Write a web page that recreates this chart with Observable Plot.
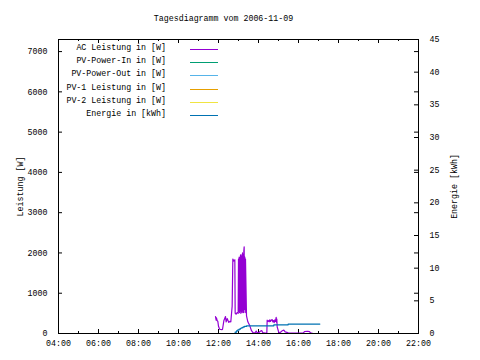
<!DOCTYPE html>
<html><head><meta charset="utf-8">
<script src="https://cdn.jsdelivr.net/npm/d3@7"></script>
<script src="https://cdn.jsdelivr.net/npm/@observablehq/plot@0.6"></script>
<style>
body{margin:0;background:#fff;}
#wrap{position:relative;width:480px;height:360px;font-family:"Liberation Mono",monospace;font-size:8.3px;color:#000;}
#legend{position:absolute;left:0;top:0;}
.row{position:absolute;left:0;width:230px;height:13px;}
.row span{position:absolute;right:64px;top:0;white-space:pre;line-height:13px;}
.row i{position:absolute;left:190px;width:28px;top:8px;height:1px;}
</style>
</head><body>
<div id="wrap"><div id="legend"></div></div>
<script>
const title = "Tagesdiagramm vom 2006-11-09";
const seriesNames = ["AC Leistung in [W]","PV-Power-In in [W]","PV-Power-Out in [W]","PV-1 Leistung in [W]","PV-2 Leistung in [W]","Energie in [kWh]"];
const seriesColors = ["#9400d3","#009e73","#56b4e9","#e69f00","#f0e442","#0072b2"];
const yLabel = "Leistung [W]";
const y2Label = "Energie [kWh]";
const xTickLabels = ["04:00","06:00","08:00","10:00","12:00","14:00","16:00","18:00","20:00","22:00"];
const xMinorLabels = ["05:00","07:00","09:00","11:00","13:00","15:00","17:00","19:00","21:00"];
const yTicks = [0,1000,2000,3000,4000,5000,6000,7000];
const y2Ticks = [0,5,10,15,20,25,30,35,40,45];
const yMax = 7300;
const y2Max = 45;

// AC Leistung in [W]
const acTimes = ["11:51","11:53","11:54","11:56","11:58","12:00","12:03","12:06","12:10","12:12","12:16","12:21","12:23","12:26","12:31","12:34","12:37","12:41","12:43","12:46","12:49","12:50","12:53","12:56","12:59","13:00","13:01","13:02","13:03","13:04","13:05","13:06","13:07","13:08","13:09","13:10","13:11","13:12","13:13","13:14","13:15","13:16","13:17","13:18","13:19","13:20","13:21","13:24","13:28","13:34","13:39","13:44","13:50","13:53","13:56","14:02","14:06","14:10","14:13","14:20","14:25","14:26","14:28","14:30","14:32","14:34","14:36","14:38","14:41","14:43","14:45","14:47","14:49","14:51","14:53","14:54","14:55","14:56","15:01","15:06","15:10","15:16","15:20","15:25","15:30","15:45","16:00","16:15","16:18","16:27","16:33","16:36","16:44"];
const acValues = [420,330,390,320,300,180,110,100,95,100,315,420,290,370,275,300,290,680,1850,1800,1830,500,480,520,500,1850,550,1900,520,1880,560,1950,500,1900,540,1950,520,2000,560,1950,520,2050,2150,600,1900,520,1850,440,290,190,70,15,20,60,20,30,60,70,20,10,15,330,300,320,290,340,300,330,345,290,320,270,340,300,400,280,360,165,25,30,60,85,40,30,10,10,10,15,50,55,45,15,0];

// Energie in [kWh]
const enTimes = ["12:00","12:46","12:50","12:54","12:58","13:02","13:06","13:10","13:14","13:18","13:24","14:46","15:29","17:04"];
const enValues = [0,0,0.2,0.4,0.55,0.68,0.8,0.9,1.0,1.08,1.18,1.33,1.44,1.44];

// Other series: no visible data in the reference
const pvInValues = [];
const pvOutValues = [];
const pv1Values = [];
const pv2Values = [];

const parse = s => new Date(`2006-11-09T${s}:00Z`);
const ac = acTimes.map((t,i)=>({t:parse(t), v:acValues[i]}));
const k = yMax / y2Max;
const en = enTimes.map((t,i)=>({t:parse(t), v:enValues[i]*k}));

const W=480,H=360,ml=58,mr=62,mt=39,mb=27;
const fw=W-ml-mr, fh=H-mt-mb;
const xT = xTickLabels.map(parse), xM = xMinorLabels.map(parse);
const y2T = y2Ticks.map(v=>v*k);

const chart = Plot.plot({
  width:W,height:H,marginLeft:ml,marginRight:mr,marginTop:mt,marginBottom:mb,
  style:{fontFamily:"Liberation Mono, monospace",fontSize:"8.3px",background:"transparent",color:"#000",overflow:"visible"},
  x:{type:"utc",domain:[parse("04:00"),parse("22:00")]},
  y:{domain:[0,yMax]},
  marks:[
    Plot.axisX({ticks:xT,tickSize:0,tickPadding:7,tickFormat:d3.utcFormat("%H:%M"),label:null}),
    Plot.axisY({ticks:yTicks,tickSize:0,tickPadding:11,tickFormat:d=>String(d),label:yLabel,labelAnchor:"center",labelArrow:"none",labelOffset:41}),
    Plot.axisY({anchor:"right",ticks:y2T,tickSize:0,tickPadding:11,tickFormat:d=>String(Math.round(d/k)),label:y2Label,labelAnchor:"center",labelArrow:"none",labelOffset:38}),
    Plot.tickX(xT,{x:d=>d,insetTop:fh-4,stroke:"#000"}),
    Plot.tickX(xT,{x:d=>d,insetBottom:fh-4,stroke:"#000"}),
    Plot.tickX(xM,{x:d=>d,insetTop:fh-2,stroke:"#000"}),
    Plot.tickX(xM,{x:d=>d,insetBottom:fh-2,stroke:"#000"}),
    Plot.tickY(yTicks,{y:d=>d,insetRight:fw-4,stroke:"#000"}),
    Plot.tickY(yTicks,{y:d=>d,insetLeft:fw-4,stroke:"#000"}),
    Plot.tickY(y2T,{y:d=>d,insetLeft:fw-4,stroke:"#000"}),
    Plot.line(ac,{x:"t",y:"v",stroke:seriesColors[0],strokeWidth:1.2}),
    Plot.line(en,{x:"t",y:"v",stroke:seriesColors[5],strokeWidth:1.2,curve:"step-after"}),
    Plot.frame({stroke:"#000"}),
    Plot.text([title],{text:d=>d,frameAnchor:"top",dy:-21,dx:-15,lineAnchor:"middle",fill:"#000"})
  ]
});
const wrap=document.getElementById("wrap");
wrap.insertBefore(chart, wrap.firstChild);
const leg=document.getElementById("legend");
seriesNames.forEach((n,i)=>{
  const r=document.createElement("div");r.className="row";r.style.top=Math.round(41+i*13.2)+"px";
  const s=document.createElement("span");s.textContent=n;r.appendChild(s);
  const l=document.createElement("i");l.style.background=seriesColors[i];r.appendChild(l);
  leg.appendChild(r);
});
</script>
</body></html>
